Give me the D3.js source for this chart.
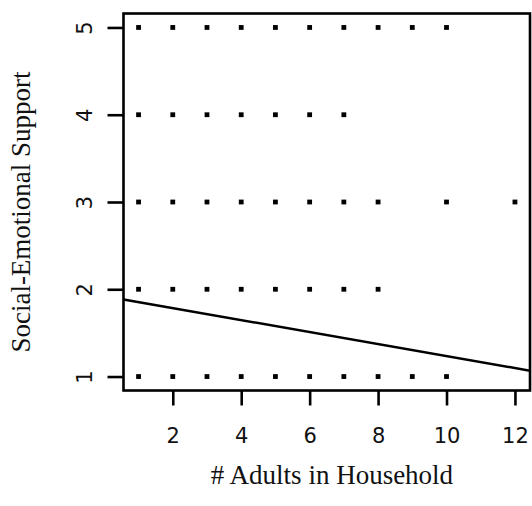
<!DOCTYPE html>
<html><head><meta charset="utf-8">
<script src="https://cdn.jsdelivr.net/npm/d3@7"></script>
<style>body{margin:0;background:#fff}svg{display:block}</style>
</head><body>
<script>
// Data (x = # adults, y = support level)
const pointsY5 = [1,2,3,4,5,6,7,8,9,10];
const pointsY4 = [1,2,3,4,5,6,7];
const pointsY3 = [1,2,3,4,5,6,7,8,10,12];
const pointsY2 = [1,2,3,4,5,6,7,8];
const pointsY1 = [1,2,3,4,5,6,7,8,9,10];
const xTicks = [2,4,6,8,10,12];
const yTicks = [1,2,3,4,5];
const fitIntercept = 1.922;
const fitSlope = -0.0687;

const rows = [[5,pointsY5],[4,pointsY4],[3,pointsY3],[2,pointsY2],[1,pointsY1]];
const pts = [];
rows.forEach(([yv, xs]) => xs.forEach(xv => pts.push({x:xv, y:yv})));

const W=532,H=506;
const L=123.5,R=530,T=13.5,B=390.5;
const x = d3.scaleLinear().domain([0.56,12.44]).range([L,R]);
const y = d3.scaleLinear().domain([0.84,5.16]).range([B,T]);

const svg = d3.select("body").append("svg").attr("width",W).attr("height",H);

svg.append("defs").append("clipPath").attr("id","clip")
  .append("rect").attr("x",L).attr("y",T).attr("width",R-L).attr("height",B-T);

// points
svg.append("g").selectAll("rect").data(pts).enter().append("rect")
  .attr("x",d=>x(d.x)-2.4).attr("y",d=>y(d.y)-2.4)
  .attr("width",4.8).attr("height",4.8).attr("fill","#000");

// regression line
const xd = x.domain();
svg.append("line").attr("clip-path","url(#clip)")
  .attr("x1",x(xd[0])).attr("y1",y(fitIntercept+fitSlope*xd[0]))
  .attr("x2",x(xd[1])).attr("y2",y(fitIntercept+fitSlope*xd[1]))
  .attr("stroke","#000").attr("stroke-width",2.5);

// box
svg.append("rect").attr("x",L).attr("y",T).attr("width",R-L).attr("height",B-T)
  .attr("fill","none").attr("stroke","#000").attr("stroke-width",2.6);

// x axis
const xa = svg.append("g").attr("transform",`translate(0,${B})`)
  .call(d3.axisBottom(x).tickValues(xTicks).tickSize(15).tickPadding(16).tickFormat(d3.format("d")));
xa.select(".domain").remove();
xa.selectAll("line").attr("stroke-width",2.6);
xa.selectAll("text").attr("font-family","DejaVu Sans").attr("font-size",21).attr("fill","#111").attr("dy","1em");

// y axis
const ya = svg.append("g").attr("transform",`translate(${L},0)`)
  .call(d3.axisLeft(y).tickValues(yTicks).tickSize(16).tickFormat(d3.format("d")));
ya.select(".domain").remove();
ya.selectAll("line").attr("stroke-width",2.6);
ya.selectAll(".tick text").attr("font-family","DejaVu Sans").attr("font-size",21).attr("fill","#111")
  .attr("text-anchor","middle").attr("x",0).attr("dy",0)
  .attr("transform","translate(-38,0) rotate(-90)").attr("dominant-baseline","middle");

// titles
svg.append("text").attr("x",332).attr("y",484).attr("text-anchor","middle")
  .attr("font-family","Liberation Serif").attr("font-size",27).attr("fill","#111").text("# Adults in Household");
svg.append("text").attr("transform","translate(30,212) rotate(-90)").attr("text-anchor","middle")
  .attr("font-family","Liberation Serif").attr("font-size",27).attr("fill","#111").text("Social-Emotional Support");
</script>
</body></html>
